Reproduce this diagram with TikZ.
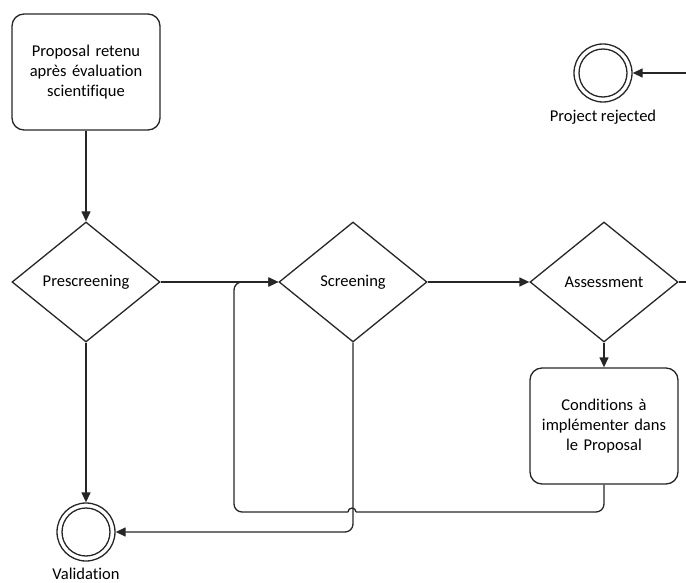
\documentclass[tikz,border=0pt]{standalone}
\usepackage{fontspec}
\setmainfont{Carlito}[Ligatures=NoCommon]
\usetikzlibrary{arrows.meta,shapes.geometric}
\begin{document}
\begin{tikzpicture}[x=1pt,y=-1pt,
  every node/.style={font=\fontsize{16.5}{20}\selectfont},
  conn/.style={line width=1.3pt,draw=black!85},
  arr/.style={conn,-{Triangle[length=10pt,width=9pt]}},
  task/.style={draw=black!85,line width=1.3pt,rounded corners=12pt,minimum width=148pt,minimum height=116pt,inner sep=2pt,align=center,text width=140pt},
  gate/.style={draw=black!85,line width=1.3pt,diamond,minimum width=148pt,minimum height=120pt,aspect=1.233,inner sep=0pt},
  endev/.style={draw=black!85,line width=1.3pt,circle,minimum size=58pt,inner sep=0pt},
  lbl/.style={inner sep=0pt}]
\useasboundingbox (0,0) rectangle (686,583);
\node[task] (start) at (86,72) {Proposal retenu\\après évaluation\\scientifique};
\node[gate] (pre) at (86,282) {Prescreening};
\node[gate] (scr) at (353,282) {Screening};
\node[gate] (ass) at (604,282) {Assessment};
\node[task] (cond) at (604,426) {Conditions à\\implémenter dans\\le Proposal};
\node[endev] (val) at (86,532) {};
\draw[line width=1.3pt,draw=black!85] (val.center) circle (24pt);
\node[lbl] (vallbl) at (86,574) {Validation};
\node[endev] (rej) at (603,73) {};
\draw[line width=1.3pt,draw=black!85] (rej.center) circle (24pt);
\node[lbl] (rejlbl) at (603,117) {Project rejected};
\coordinate (rejsrc) at (686,73);
\coordinate (assout) at (686,282);
\coordinate (hopR) at (356,512);
\coordinate (hopL) at (348,512);
\coordinate (loopBL) at (234,512);
\coordinate (loopTL) at (234,282);

\draw[arr] (start) -- (pre.north);
\draw[arr] (pre.east) -- (scr.west);
\draw[arr] (scr.east) -- (ass.west);
\draw[conn] (ass.east) -- (assout);
\draw[arr] (ass.south) -- (cond.north);
\draw[arr] (pre.south) -- (val.north);
\draw[arr,rounded corners=8pt] (scr.south) |- (val.east);
\draw[arr] (rejsrc) -- (rej.east);
\draw[conn,rounded corners=8pt] (cond.south) |- (hopR);
\draw[conn] (hopR) arc (0:180:4pt);
\draw[arr,rounded corners=8pt] (hopL) -- (loopBL) -- (loopTL) -- (scr.west);
\end{tikzpicture}
\end{document}
